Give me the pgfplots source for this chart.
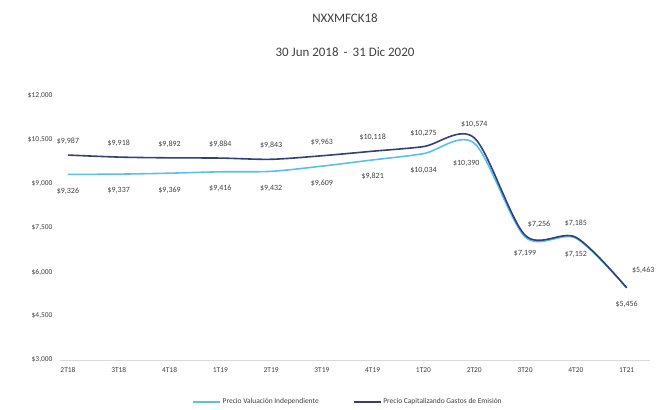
\documentclass[border=0pt]{standalone}
\usepackage{pgfplots}
\pgfplotsset{compat=1.18}
\usepackage{fontspec}
\setmainfont{Carlito}
\definecolor{lightblue}{RGB}{88,192,240}
\definecolor{navy}{RGB}{50,64,122}
\definecolor{txt}{RGB}{64,64,64}
\begin{document}
\begin{tikzpicture}
\begin{axis}[
  scale only axis, width=590bp, height=264bp,
  xmin=-0.157, xmax=11.46, ymin=3000, ymax=12000,
  ytick={3000,4500,6000,7500,9000,10500,12000},
  scaled y ticks=false,
  xtick={0,...,11},
  xticklabels={2T18,3T18,4T18,1T19,2T19,3T19,4T19,1T20,2T20,3T20,4T20,1T21},
  axis x line=bottom, axis y line=left,
  axis line style={-},
  x axis line style={draw=black!15, line width=0.8pt},
  y axis line style={draw=none},
  major tick length=0pt,
  /pgf/number format/assume math mode=true,
  /pgf/number format/.cd, fixed, 1000 sep={,}, /pgfplots/.cd,
  yticklabel={\$\pgfmathprintnumber{\tick}},
  tick label style={font=\fontsize{7.5}{8}\selectfont, text=txt},
  yticklabel style={xshift=-4bp},
  xticklabel style={yshift=-4bp},
  legend style={draw=none, at={(0.488,-0.159)}, anchor=center, legend columns=2,
    font=\fontsize{7.5}{8}\selectfont, text=txt,
    /tikz/every even column/.append style={column sep=32bp}},
  legend image code/.code={\draw[#1] (0bp,0bp) -- (27bp,0bp);},
  clip=false,
]
\addplot[lightblue, line width=1.6pt, smooth, tension=0.5] coordinates {
 (0,9326) (1,9337) (2,9369) (3,9416) (4,9432) (5,9609) (6,9821) (7,10034) (8,10390) (9,7199) (10,7152) (11,5456)};
\addlegendentry{Precio Valuación Independiente}
\addplot[navy, line width=1.6pt, smooth, tension=0.5] coordinates {
 (0,9987) (1,9918) (2,9892) (3,9884) (4,9843) (5,9963) (6,10118) (7,10275) (8,10574) (9,7256) (10,7185) (11,5463)};
\addlegendentry{Precio Capitalizando Gastos de Emisión}
% data labels, dark series (above)
\addplot[draw=none, forget plot, point meta=explicit symbolic,
  nodes near coords, nodes near coords style={font=\fontsize{8}{9}\selectfont, text=txt, anchor=south, yshift=7bp}]
 coordinates {
 (0,9987) [\$9,987] (1,9918) [\$9,918] (2,9892) [\$9,892] (3,9884) [\$9,884] (4,9843) [\$9,843]
 (5,9963) [\$9,963] (6,10118) [\$10,118] (7,10275) [\$10,275] (8,10574) [\$10,574]
 (10,7185) [\$7,185]};
\addplot[draw=none, forget plot, point meta=explicit symbolic,
  nodes near coords, nodes near coords style={font=\fontsize{8}{9}\selectfont, text=txt, anchor=south, xshift=14bp, yshift=4bp}]
 coordinates {(9,7256) [\$7,256]};
\addplot[draw=none, forget plot, point meta=explicit symbolic,
  nodes near coords, nodes near coords style={font=\fontsize{8}{9}\selectfont, text=txt, anchor=west, xshift=2bp, yshift=17bp}]
 coordinates {(11,5463) [\$5,463]};
% data labels, light series (below)
\addplot[draw=none, forget plot, point meta=explicit symbolic,
  nodes near coords, nodes near coords style={font=\fontsize{8}{9}\selectfont, text=txt, anchor=north, yshift=-10bp}]
 coordinates {
 (0,9326) [\$9,326] (1,9337) [\$9,337] (2,9369) [\$9,369] (3,9416) [\$9,416] (4,9432) [\$9,432]
 (5,9609) [\$9,609] (6,9821) [\$9,821] (7,10034) [\$10,034]
 (9,7199) [\$7,199] (10,7152) [\$7,152] (11,5456) [\$5,456]};
\addplot[draw=none, forget plot, point meta=explicit symbolic,
  nodes near coords, nodes near coords style={font=\fontsize{8}{9}\selectfont, text=txt, anchor=north, xshift=-8bp, yshift=-14bp}]
 coordinates {(8,10390) [\$10,390]};
\end{axis}
\node[font=\fontsize{13}{14}\selectfont, text=txt] at ([xshift=-10bp,yshift=78bp]current axis.north) {NXXMFCK18};
\node[font=\fontsize{13}{14}\selectfont, text=txt] at ([xshift=-10bp,yshift=44bp]current axis.north) {30 Jun 2018 \,-\, 31 Dic 2020};
\path[use as bounding box] ([xshift=-60bp,yshift=-48bp]current axis.south west) rectangle ++(667bp,408bp);
\end{tikzpicture}
\end{document}
